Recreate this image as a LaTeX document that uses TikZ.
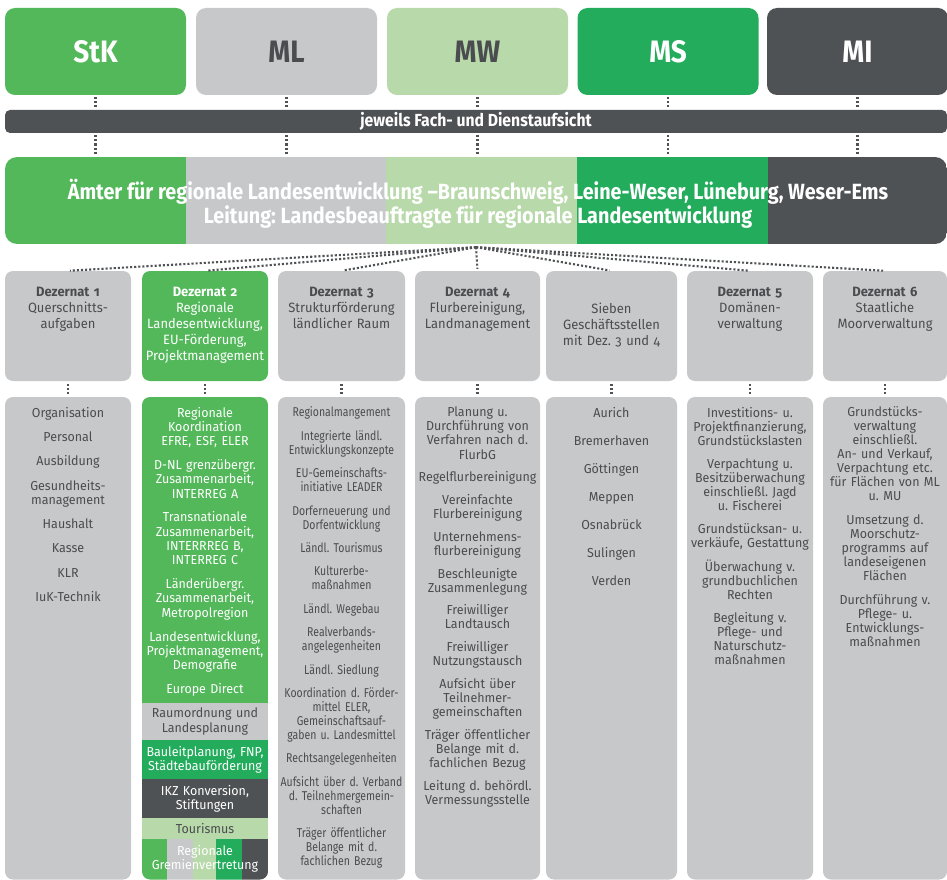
\documentclass[tikz,border=0pt]{standalone}
\usepackage{fontspec}
\setmainfont{Fira Sans}[FakeStretch=0.96, Numbers=OldStyle]
\newfontfamily\headfont[FakeStretch=0.9]{Fira Sans}
\newfontfamily\narrowfont[FakeStretch=0.82, Numbers=OldStyle]{Fira Sans}
\usepackage{tikz}
\usetikzlibrary{positioning}
\frenchspacing

\definecolor{stkgreen}{RGB}{82,184,90}
\definecolor{mlgray}{RGB}{198,200,202}
\definecolor{mwgreen}{RGB}{184,217,169}
\definecolor{msgreen}{RGB}{35,172,92}
\definecolor{midark}{RGB}{79,82,84}
\definecolor{txtgray}{RGB}{74,76,79}

\tikzset{
  dots/.style={draw=midark, line width=2.1pt, dash pattern=on 2.1pt off 2pt},
  chef/.style={rounded corners=10pt, minimum width=181pt, minimum height=87pt, inner sep=0pt,
    font=\headfont\bfseries\fontsize{31}{31}\selectfont},
  dezbox/.style={fill=mlgray, rounded corners=8pt, minimum width=126pt, minimum height=110pt, inner sep=0pt},
  dezkopf/.style={text=txtgray, text width=126pt, align=center, inner sep=0pt,
    font=\fontsize{13.5}{16}\selectfont},
  listbox/.style={fill=mlgray, rounded corners=8pt, minimum width=126pt, minimum height=482.5pt, inner sep=0pt},
  liste/.style={text=txtgray, text width=130pt, align=center, inner sep=0pt,
    font=\fontsize{13}{14.3}\selectfont},
  band/.style={minimum width=126pt, text width=126pt, inner sep=0pt, align=center,
    font=\fontsize{13}{14.3}\selectfont},
}

\begin{document}
\begin{tikzpicture}[x=1pt, y=-1pt]
  \useasboundingbox (0,0) rectangle (947,880);

  % Ministerien
  \node[chef, fill=stkgreen, text=white] (stk) at (95.5,51.5) {StK};
  \node[chef, fill=mlgray, text=txtgray] (ml) at (286.5,51.5) {ML};
  \node[chef, fill=mwgreen, text=txtgray] (mw) at (477.5,51.5) {MW};
  \node[chef, fill=msgreen, text=white] (ms) at (668,51.5) {MS};
  \node[chef, fill=midark, text=white] (mi) at (857.5,51.5) {MI};

  \node[fill=midark, rounded corners=5pt, minimum width=942pt, minimum height=23pt, inner sep=0pt,
    text=white, font=\headfont\bfseries\fontsize{17.5}{17.5}\selectfont] (aufsicht) at (476,121.5)
    {jeweils Fach- und Dienstaufsicht};

  % Band der Aemter, in den Farben der Ministerien
  \begin{scope}
    \clip[rounded corners=12pt] (5,157) rectangle (947,244);
    \fill[stkgreen] (5,157) rectangle (186,244);
    \fill[mlgray] (186,157) rectangle (386,244);
    \fill[mwgreen] (386,157) rectangle (577,244);
    \fill[msgreen] (577,157) rectangle (768,244);
    \fill[midark] (768,157) rectangle (947,244);
  \end{scope}
  \node[minimum width=942pt, minimum height=87pt, inner sep=0pt] (amt) at (476,200.5) {};
  \node[align=center, inner sep=0pt, text=white,
    font=\headfont\bfseries\fontsize{22}{24}\selectfont] (amttext) at (478,204)
    {Ämter für regionale Landesentwicklung –Braunschweig, Leine-Weser, Lüneburg, Weser-Ems\\
     Leitung: Landesbeauftragte für regionale Landesentwicklung};

  \foreach \m in {stk,ml,mw,ms,mi}{
    \draw[dots, shorten >=2pt] ([yshift=-2pt]\m.south) -- (\m.south |- aufsicht.north);
    \draw[dots, shorten >=2pt] ([yshift=-2pt]\m.south |- aufsicht.south) -- (\m.south |- amt.north);
  }

  % Dezernate
  \node[dezbox] (dz1) at (68,326) {};
  \node[dezbox, fill=stkgreen] (dz2) at (205,326) {};
  \node[dezbox, minimum width=127pt] (dz3) at (341.5,326) {};
  \node[dezbox, minimum width=125pt] (dz4) at (477.5,326) {};
  \node[dezbox, minimum width=131pt] (gst) at (611.5,326) {};
  \node[dezbox] (dz5) at (750,326) {};
  \node[dezbox, minimum width=124pt] (dz6) at (885,326) {};

  \node[dezkopf, below=16pt of dz1.north] (k1) {\textbf{Dezernat 1}\\Querschnitts-\\aufgaben};
  \node[dezkopf, text=white, below=16pt of dz2.north] (k2)
    {\textbf{Dezernat 2}\\Regionale\\Landesentwicklung,\\EU-Förderung,\\Projektmanagement};
  \node[dezkopf, below=16pt of dz3.north] (k3) {\textbf{Dezernat 3}\\Strukturförderung\\ländlicher Raum};
  \node[dezkopf, below=16pt of dz4.north] (k4) {\textbf{Dezernat 4}\\Flurbereinigung,\\Landmanagement};
  \node[dezkopf, below=32pt of gst.north] (kg) {Sieben\\Geschäftsstellen\\mit Dez. 3 und 4};
  \node[dezkopf, below=16pt of dz5.north] (k5) {\textbf{Dezernat 5}\\Domänen-\\verwaltung};
  \node[dezkopf, below=16pt of dz6.north] (k6) {\textbf{Dezernat 6}\\Staatliche\\Moorverwaltung};

  \coordinate (fan) at ([yshift=-3pt]amt.south);
  \foreach \d in {dz1,dz2,dz3,dz4,gst,dz5,dz6}
    \draw[dots, shorten >=2pt] (fan) -- (\d.north);

  % Aufgaben
  \node[listbox] (ab1) at (68,638.25) {};
  \begin{scope}
    \clip[rounded corners=8pt] (142,397) rectangle (268,879.5);
    \fill[stkgreen] (142,397) rectangle (268,703);
    \node[band, fill=mlgray, text=txtgray, minimum height=37pt] (raum) at (205,721.5)
      {Raumordnung und\\Landesplanung};
    \node[band, fill=msgreen, text=white, minimum height=39pt] (bauleit) at (205,759.5)
      {Bauleitplanung, FNP,\\Städtebauförderung};
    \node[band, fill=midark, text=white, minimum height=39pt] (ikz) at (205,798.5)
      {IKZ Konversion,\\Stiftungen};
    \node[band, fill=mwgreen, text=txtgray, minimum height=21pt] (tour) at (205,828.5) {Tourismus};
    \fill[stkgreen] (142,839) rectangle (167,880);
    \fill[mlgray] (167,839) rectangle (193,880);
    \fill[mwgreen] (193,839) rectangle (216,880);
    \fill[msgreen] (216,839) rectangle (242,880);
    \fill[midark] (242,839) rectangle (268,880);
    \node[band, text=white] (gremien) at (205,859) {Regionale\\Gremienvertretung};
  \end{scope}
  \node[minimum width=126pt, minimum height=482.5pt, inner sep=0pt] (ab2) at (205,638.25) {};
  \node[listbox, minimum width=127pt] (ab3) at (341.5,638.25) {};
  \node[listbox, minimum width=125pt] (ab4) at (477.5,638.25) {};
  \node[listbox, minimum width=131pt] (abg) at (611.5,638.25) {};
  \node[listbox] (ab5) at (750,638.25) {};
  \node[listbox, minimum width=124pt] (ab6) at (885,638.25) {};

  \foreach \d/\a in {dz1/ab1,dz2/ab2,dz3/ab3,dz4/ab4,gst/abg,dz5/ab5,dz6/ab6}
    \draw[dots, shorten >=3pt] ([yshift=-3pt]\d.south) -- (\a.north);

  \node[liste, below=10pt of ab1.north] (l1)
    {Organisation\\[10pt] Personal\\[10pt] Ausbildung\\[10pt] Gesundheits-\\management\\[10pt]
     Haushalt\\[10pt] Kasse\\[10pt] KLR\\[10pt] IuK-Technik};
  \node[liste, text=white, below=10pt of ab2.north] (l2)
    {Regionale\\Koordination\\EFRE, ESF, ELER\\[9.5pt]
     D-NL grenzübergr.\\Zusammenarbeit,\\INTERREG A\\[9.5pt]
     Transnationale\\Zusammenarbeit,\\INTERRREG B,\\INTERREG C\\[9.5pt]
     Länderübergr.\\Zusammenarbeit,\\Metropolregion\\[9.5pt]
     Landesentwicklung,\\Projektmanagement,\\Demografie\\[9.5pt]
     Europe Direct};
  \node[liste, text width=140pt, font=\narrowfont\fontsize{12.8}{14}\selectfont, below=10pt of ab3.north] (l3)
    {Regionalmangement\\[9.4pt]
     Integrierte ländl.\\Entwicklungskonzepte\\[9.4pt]
     EU-Gemeinschafts-\\initiative LEADER\\[9.4pt]
     Dorferneuerung und\\Dorfentwicklung\\[9.4pt]
     Ländl. Tourismus\\[9.4pt]
     Kulturerbe-\\maßnahmen\\[9.4pt]
     Ländl. Wegebau\\[9.4pt]
     Realverbands-\\angelegenheiten\\[9.4pt]
     Ländl. Siedlung\\[9.4pt]
     Koordination d. Förder-\\mittel ELER,\\Gemeinschaftsauf-\\gaben u. Landesmittel\\[9.4pt]
     Rechtsangelegenheiten\\[9.4pt]
     Aufsicht über d. Verband\\d. Teilnehmergemein-\\schaften\\[9.4pt]
     Träger öffentlicher\\Belange mit d.\\fachlichen Bezug};
  \node[liste, font=\fontsize{13}{14.1}\selectfont, below=10pt of ab4.north] (l4)
    {Planung u.\\Durchführung von\\Verfahren nach d.\\FlurbG\\[8.6pt]
     Regelflurbereinigung\\[8.6pt]
     Vereinfachte\\Flurbereinigung\\[8.6pt]
     Unternehmens-\\flurbereinigung\\[8.6pt]
     Beschleunigte\\Zusammenlegung\\[8.6pt]
     Freiwilliger\\Landtausch\\[8.6pt]
     Freiwilliger\\Nutzungstausch\\[8.6pt]
     Aufsicht über\\Teilnehmer-\\gemeinschaften\\[8.6pt]
     Träger öffentlicher\\Belange mit d.\\fachlichen Bezug\\[8.6pt]
     Leitung d. behördl.\\Vermessungsstelle};
  \node[liste, below=10pt of abg.north] (lg)
    {Aurich\\[13.7pt] Bremerhaven\\[13.7pt] Göttingen\\[13.7pt] Meppen\\[13.7pt]
     Osnabrück\\[13.7pt] Sulingen\\[13.7pt] Verden};
  \node[liste, font=\fontsize{13}{14}\selectfont, below=10pt of ab5.north] (l5)
    {Investitions- u.\\Projektfinanzierung,\\Grundstückslasten\\[9pt]
     Verpachtung u.\\Besitzüberwachung\\einschließl. Jagd\\u. Fischerei\\[9pt]
     Grundstücksan- u.\\verkäufe, Gestattung\\[9pt]
     Überwachung v.\\grundbuchlichen\\Rechten\\[9pt]
     Begleitung v.\\Pflege- und\\Naturschutz-\\maßnahmen};
  \node[liste, font=\fontsize{13}{14}\selectfont, below=10pt of ab6.north] (l6)
    {Grundstücks-\\verwaltung\\einschließl.\\An- und Verkauf,\\Verpachtung etc.\\für Flächen von ML\\u. MU\\[10pt]
     Umsetzung d.\\Moorschutz-\\programms auf\\landeseigenen\\Flächen\\[10pt]
     Durchführung v.\\Pflege- u.\\Entwicklungs-\\maßnahmen};
\end{tikzpicture}
\end{document}
